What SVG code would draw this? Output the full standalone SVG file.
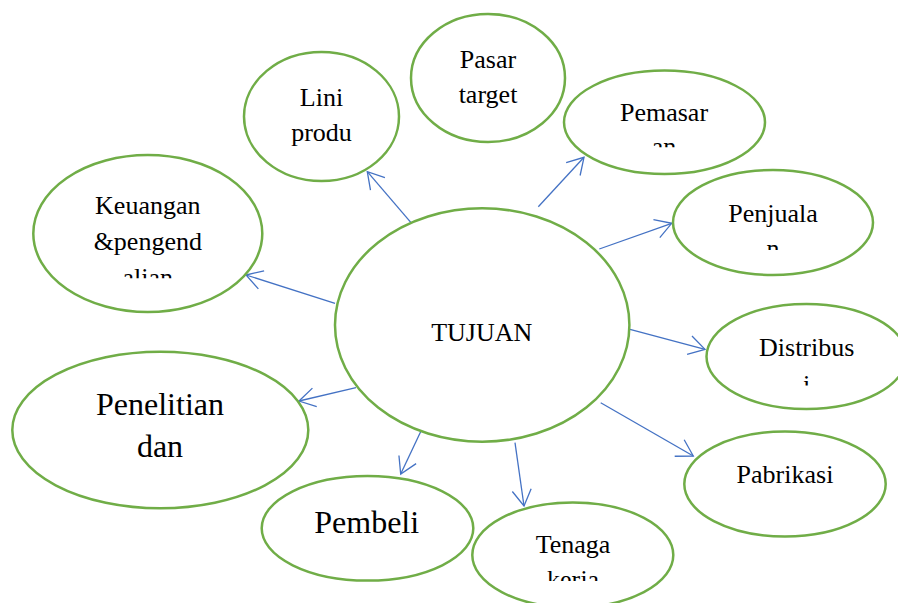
<svg xmlns="http://www.w3.org/2000/svg" width="898" height="603" viewBox="0 0 898 603">
<style>
.n{fill:#fff;stroke:#70AD47;stroke-width:2.5}
.t{font-family:"Liberation Serif","Times New Roman",serif;font-size:26px;fill:#000;text-anchor:middle}
.b{font-size:32px}
.c{stroke:#4472C4;stroke-width:1.3;fill:none}
</style>
<defs>
<marker id="arr" markerUnits="userSpaceOnUse" markerWidth="22" markerHeight="24" viewBox="-19 -12 22 24" refX="0" refY="0" orient="auto">
<path d="M-16,-9.5 L0,0 L-16,9.5" fill="none" stroke="#4472C4" stroke-width="1.3"/>
</marker>
<clipPath id="cPem"><rect x="560" y="0" width="220" height="147.3"/></clipPath>
<clipPath id="cPen"><rect x="660" y="0" width="230" height="250"/></clipPath>
<clipPath id="cDis"><rect x="700" y="0" width="198" height="385.5"/></clipPath>
<clipPath id="cTen"><rect x="460" y="0" width="230" height="581"/></clipPath>
<clipPath id="cKeu"><rect x="20" y="0" width="260" height="278.3"/></clipPath>
</defs>
<rect width="898" height="603" fill="#fff"/>
<g id="connectors">
<line class="c" x1="411" y1="222.7" x2="367.3" y2="171.7" marker-end="url(#arr)"/>
<line class="c" x1="538.3" y1="206.7" x2="584" y2="157.3" marker-end="url(#arr)"/>
<line class="c" x1="599.3" y1="249" x2="671.7" y2="223.3" marker-end="url(#arr)"/>
<line class="c" x1="630" y1="329.3" x2="705" y2="349.3" marker-end="url(#arr)"/>
<line class="c" x1="600.7" y1="402.7" x2="693.3" y2="456" marker-end="url(#arr)"/>
<line class="c" x1="515" y1="442.7" x2="524" y2="506" marker-end="url(#arr)"/>
<line class="c" x1="421" y1="431" x2="400.7" y2="474" marker-end="url(#arr)"/>
<line class="c" x1="356" y1="387.7" x2="299" y2="401" marker-end="url(#arr)"/>
<line class="c" x1="335" y1="303.3" x2="246" y2="275" marker-end="url(#arr)"/>
</g>
<g id="tujuan">
<ellipse class="n" cx="482.2" cy="325" rx="147.2" ry="116.7"/>
<text class="t" x="481.7" y="341">TUJUAN</text>
</g>
<g id="lini">
<ellipse class="n" cx="321.5" cy="116.5" rx="77.5" ry="64.5"/>
<text class="t" x="321.5" y="106">Lini</text>
<text class="t" x="321.5" y="140.5">produ</text>
</g>
<g id="pasar">
<ellipse class="n" cx="488" cy="78" rx="77" ry="64"/>
<text class="t" x="488" y="68">Pasar</text>
<text class="t" x="488" y="103">target</text>
</g>
<g id="pemasaran">
<ellipse class="n" cx="664.5" cy="122.3" rx="100.5" ry="51.7"/>
<text class="t" x="664" y="120.7">Pemasar</text>
<text class="t" x="664" y="155" clip-path="url(#cPem)">an</text>
</g>
<g id="penjualan">
<ellipse class="n" cx="773" cy="222.5" rx="100" ry="52.5"/>
<text class="t" x="773" y="221.7">Penjuala</text>
<text class="t" x="773" y="256.7" clip-path="url(#cPen)">n</text>
</g>
<g id="distribusi">
<ellipse class="n" cx="806.5" cy="356.5" rx="100" ry="52.5"/>
<text class="t" x="806.7" y="355.5">Distribus</text>
<text class="t" x="806.7" y="393" clip-path="url(#cDis)">i</text>
</g>
<g id="pabrikasi">
<ellipse class="n" cx="785" cy="484" rx="100.7" ry="52.5"/>
<text class="t" x="785" y="482.7">Pabrikasi</text>
</g>
<g id="tenaga">
<ellipse class="n" cx="572.8" cy="555" rx="100.5" ry="52.5"/>
<text class="t" x="573" y="553.3">Tenaga</text>
<text class="t" x="573" y="588.3" clip-path="url(#cTen)">kerja</text>
</g>
<g id="pembeli">
<ellipse class="n" cx="367.5" cy="528.3" rx="105.8" ry="52.3"/>
<text class="t b" x="366.7" y="532.7">Pembeli</text>
</g>
<g id="penelitian">
<ellipse class="n" cx="160.3" cy="430" rx="148" ry="78.3"/>
<text class="t b" x="160" y="415">Penelitian</text>
<text class="t b" x="160" y="456.7">dan</text>
</g>
<g id="keuangan">
<ellipse class="n" cx="147.8" cy="233.5" rx="114.5" ry="78.5"/>
<text class="t" x="147.8" y="214">Keuangan</text>
<text class="t" x="147.8" y="250">&amp;pengend</text>
<text class="t" x="147.8" y="286" clip-path="url(#cKeu)">alian</text>
</g>
</svg>
